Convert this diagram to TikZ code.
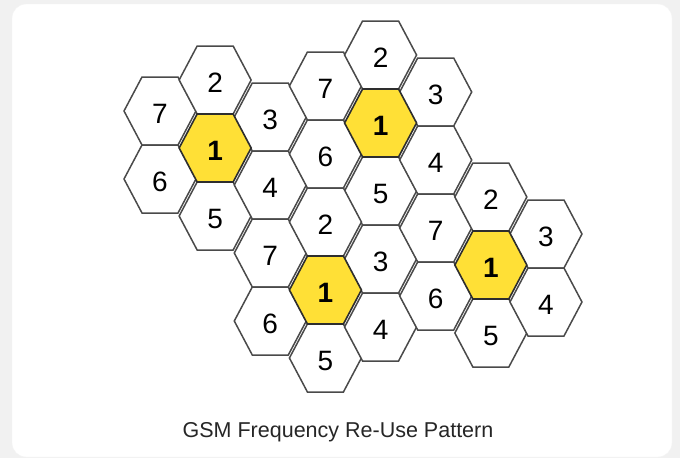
\documentclass[tikz,border=0pt]{standalone}
\usepackage{fontspec}
\setmainfont{Liberation Sans}
\definecolor{bgray}{HTML}{F1F1F1}
\definecolor{hexgray}{HTML}{4A4A4A}
\definecolor{hexdark}{HTML}{2E2E2E}
\definecolor{cellyellow}{HTML}{FFE036}
\newcommand{\hexcell}[5]{%
  \pgfmathsetmacro\hx{160+55.14*#2}%
  \pgfmathsetmacro\hy{111+37*#2+68*#3}%
  \draw[#5] (\hx+36,\hy) -- (\hx+18,\hy-34) -- (\hx-18,\hy-34) -- (\hx-36,\hy) -- (\hx-18,\hy+34) -- (\hx+18,\hy+34) -- cycle;
  \node[cellnum] (#1) at (\hx,\hy+3) {#4};%
}
\begin{document}
\begin{tikzpicture}[x=1pt,y=-1pt,
  hexline/.style={draw=hexgray,line width=1.5pt,line join=miter,fill=white},
  hexyellow/.style={draw=hexdark,line width=1.6pt,line join=miter,fill=cellyellow},
  cellnum/.style={font=\fontsize{28}{28}\selectfont,text=black,inner sep=0pt},
  captionstyle/.style={font=\fontsize{21.5}{23}\selectfont,text=black!85,inner sep=0pt,anchor=base}]
\fill[bgray] (0,0) rectangle (680,458);
\useasboundingbox (0,0) rectangle (680,458);
\fill[white, rounded corners=14pt, draw=black!5] (12,4) rectangle (672,457);
% cluster A
\hexcell{a7}{0}{0}{7}{hexline}
\hexcell{a6}{0}{1}{6}{hexline}
\hexcell{a2}{1}{-1}{2}{hexline}
\hexcell{a5}{1}{1}{5}{hexline}
\hexcell{a3}{2}{-1}{3}{hexline}
\hexcell{a4}{2}{0}{4}{hexline}
% cluster B
\hexcell{b7}{3}{-2}{7}{hexline}
\hexcell{b6}{3}{-1}{6}{hexline}
\hexcell{b2}{4}{-3}{2}{hexline}
\hexcell{b5}{4}{-1}{5}{hexline}
\hexcell{b3}{5}{-3}{3}{hexline}
\hexcell{b4}{5}{-2}{4}{hexline}
% cluster C
\hexcell{c7}{2}{1}{7}{hexline}
\hexcell{c6}{2}{2}{6}{hexline}
\hexcell{c2}{3}{0}{2}{hexline}
\hexcell{c5}{3}{2}{5}{hexline}
\hexcell{c3}{4}{0}{3}{hexline}
\hexcell{c4}{4}{1}{4}{hexline}
% cluster D
\hexcell{d7}{5}{-1}{7}{hexline}
\hexcell{d6}{5}{0}{6}{hexline}
\hexcell{d2}{6}{-2}{2}{hexline}
\hexcell{d5}{6}{0}{5}{hexline}
\hexcell{d3}{7}{-2}{3}{hexline}
\hexcell{d4}{7}{-1}{4}{hexline}
% centre cells
\hexcell{a1}{1}{0}{\bfseries 1}{hexyellow}
\hexcell{b1}{4}{-2}{\bfseries 1}{hexyellow}
\hexcell{c1}{3}{1}{\bfseries 1}{hexyellow}
\hexcell{d1}{6}{-1}{\bfseries 1}{hexyellow}
\node[captionstyle] (caption) at (338,437) {GSM Frequency Re-Use Pattern};
\end{tikzpicture}
\end{document}
